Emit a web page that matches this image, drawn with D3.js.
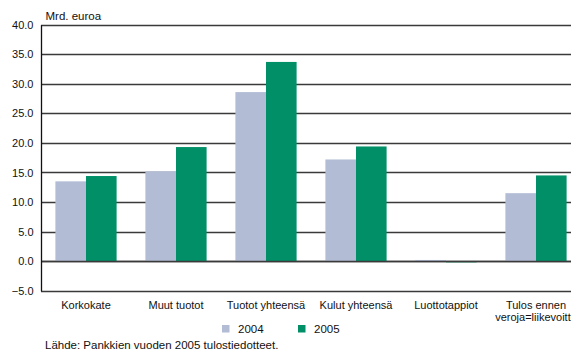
<!DOCTYPE html>
<html>
<head>
<meta charset="utf-8">
<script src="https://cdn.jsdelivr.net/npm/d3@7"></script>
<style>
  html, body { margin: 0; padding: 0; background: #fff; }
  svg { display: block; font-family: "Liberation Sans", Arial, sans-serif; }
</style>
</head>
<body>
<svg id="chart" width="571" height="350"></svg>
<script>
// Bank income statement items, billions of euros
const categories = ["Korkokate", "Muut tuotot", "Tuotot yhteensä", "Kulut yhteensä", "Luottotappiot", "Tulos ennen\nveroja=liikevoitto"];
const years = ["2004", "2005"];
const values2004 = [13.5, 15.2, 28.6, 17.2, 0.2, 11.5];
const values2005 = [14.4, 19.3, 33.7, 19.4, -0.2, 14.5];
const yTicks = [-5, 0, 5, 10, 15, 20, 25, 30, 35, 40];
const colors = ["#b2bcd4", "#008f67"];

const svg = d3.select("#chart");
const plotLeft = 41, plotRight = 581, plotTop = 24.7, plotBottom = 290.7;

const x = d3.scaleBand().domain(categories).range([plotLeft, plotRight]).paddingInner(0.32).paddingOuter(0.16);
const xs = d3.scaleBand().domain(years).range([0, x.bandwidth()]);
const y = d3.scaleLinear().domain([-5, 40]).range([plotBottom, plotTop]);

// horizontal grid lines
svg.append("g")
  .selectAll("line")
  .data(yTicks)
  .join("line")
  .attr("x1", plotLeft).attr("x2", 571)
  .attr("y1", d => Math.round(y(d)) + 0.5).attr("y2", d => Math.round(y(d)) + 0.5)
  .attr("stroke", "#3a3a3a").attr("stroke-width", 1.3);

// bars
const series = [values2004, values2005];
const groups = svg.append("g").selectAll("g")
  .data(years)
  .join("g")
  .attr("fill", (d, i) => colors[i]);
groups.selectAll("rect")
  .data((yr, i) => categories.map((c, j) => ({ c, yr, v: series[i][j] })))
  .join("rect")
  .attr("x", d => x(d.c) + xs(d.yr))
  .attr("width", xs.bandwidth())
  .attr("y", d => y(Math.max(0, d.v)))
  .attr("height", d => Math.abs(y(d.v) - y(0)));

// zero line drawn again above the bars
svg.append("line")
  .attr("x1", plotLeft).attr("x2", 571)
  .attr("y1", Math.round(y(0)) + 0.5).attr("y2", Math.round(y(0)) + 0.5)
  .attr("stroke", "#3a3a3a").attr("stroke-width", 1.3);

// y axis
const yAxis = d3.axisLeft(y).tickValues(yTicks).tickFormat(d3.format(".1f")).tickSize(0).tickPadding(7.5);
const ya = svg.append("g").attr("transform", `translate(${plotLeft},0)`).call(yAxis);
ya.select(".domain").attr("stroke", "#111").attr("stroke-width", 1.3);
ya.selectAll("text").attr("font-size", 11).attr("fill", "#111").attr("font-family", "Liberation Sans, Arial, sans-serif");

// category labels
const xl = svg.append("g").selectAll("text")
  .data(categories)
  .join("text")
  .attr("x", d => x(d) + x.bandwidth() / 2)
  .attr("y", 309)
  .attr("text-anchor", "middle")
  .attr("font-size", 11)
  .attr("fill", "#111");
xl.selectAll("tspan")
  .data(d => d.split("\n"))
  .join("tspan")
  .attr("x", function () { return d3.select(this.parentNode).attr("x"); })
  .attr("dy", (d, i) => i === 0 ? 0 : 11.5)
  .text(d => d);

// unit label
svg.append("text").attr("x", 45.5).attr("y", 20).attr("font-size", 11.5).attr("fill", "#111").text("Mrd. euroa");

// legend
const legendX = [222, 298];
const lg = svg.append("g").selectAll("g").data(years).join("g")
  .attr("transform", (d, i) => `translate(${legendX[i]},0)`);
lg.append("rect").attr("x", 0).attr("y", 325).attr("width", 7.5).attr("height", 7.5).attr("fill", (d, i) => colors[i]);
lg.append("text").attr("x", 16).attr("y", 332.5).attr("font-size", 11.5).attr("fill", "#111").text(d => d);

// source note
svg.append("text").attr("x", 45).attr("y", 349).attr("font-size", 11.5).attr("fill", "#111")
  .text("Lähde: Pankkien vuoden 2005 tulostiedotteet.");
</script>
</body>
</html>
